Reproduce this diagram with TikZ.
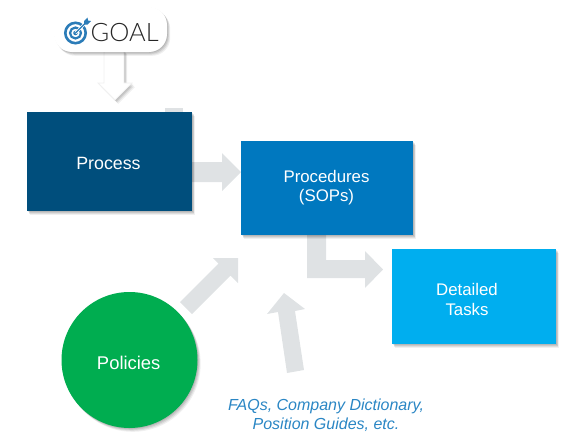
\documentclass[tikz,border=0pt]{standalone}
\usepackage{fontspec}
\setmainfont{Liberation Sans}
\newfontfamily\lightfont{Lato Light}
\usetikzlibrary{shadows}
\definecolor{procC}{HTML}{004E7C}
\definecolor{sopC}{HTML}{0078BF}
\definecolor{taskC}{HTML}{00AEEF}
\definecolor{polC}{HTML}{00AD50}
\definecolor{arrC}{HTML}{DFE2E4}
\definecolor{faqC}{HTML}{2A86C4}
\definecolor{iconC}{HTML}{2B7CB8}
\tikzset{
  softshadow/.style={
    drop shadow={shadow xshift=.8pt,shadow yshift=-.8pt,fill=black,opacity=.09},
    drop shadow={shadow xshift=1.6pt,shadow yshift=-1.8pt,fill=black,opacity=.09},
    drop shadow={shadow xshift=2.4pt,shadow yshift=-2.8pt,fill=black,opacity=.08},
    drop shadow={shadow xshift=3.2pt,shadow yshift=-3.8pt,fill=black,opacity=.06}},
  boxstyle/.style={draw=none,minimum width=#1,inner sep=0,softshadow},
  boxlabel/.style={align=center,text=white,inner sep=0,font=\fontsize{#1}{19.5}\selectfont},
  flowarrow/.style={fill=arrC,draw=none},
  ring/.style={draw=iconC,fill=none}
}
\begin{document}
\begin{tikzpicture}[x=1pt,y=-1pt]
\useasboundingbox (0,0) rectangle (563,434);
% grey stub behind the process box
\fill[arrC] (165,108) rectangle (183,114);
% block arrows
\fill[flowarrow] (190,162) -- (222,162) -- (222,153) -- (241,172) -- (222,191) -- (222,182) -- (190,182) -- cycle;
\fill[flowarrow] (307,233) -- (326,233) -- (326,260) -- (365,260) -- (365,251) -- (383,269.5) -- (365,288) -- (365,278) -- (307,278) -- cycle;
\fill[flowarrow] (180,302) -- (218.5,263.5) -- (213,258) -- (238,258) -- (238,283) -- (230.5,275.5) -- (192,314) -- cycle;
\fill[flowarrow] (287,373) -- (278,312) -- (267,314) -- (284,293) -- (305,309) -- (295,311) -- (304,370) -- cycle;
% goal arrow
\path[fill=white,draw=black!6,line width=.8pt,softshadow] (104,50) -- (124,50) -- (124,83) -- (132,83) -- (115,100) -- (98,83) -- (104,83) -- cycle;
% boxes
\node[boxstyle=165pt,fill=procC,minimum height=99pt] (process) at (109.5,161.5) {};
\node[boxstyle=172pt,fill=sopC,minimum height=94pt] (sop) at (327,188) {};
\node[boxstyle=164pt,fill=taskC,minimum height=95pt] (tasks) at (474,296.5) {};
\node[boxstyle=136pt,fill=polC,shape=circle] (policies) at (129.5,360) {};
\node[boxlabel=17.8] (processlabel) at (108.5,163.5) {Process};
\node[boxlabel=16.8] (soplabel) at (326.5,187.5) {Procedures\\(SOPs)};
\node[boxlabel=16.8] (taskslabel) at (467,299.5) {Detailed\\Tasks};
\node[boxlabel=18.4] (policieslabel) at (128.7,362.5) {Policies};
\node[align=center,text=faqC,font=\fontsize{16}{19.5}\selectfont\itshape,inner sep=0] (faq) at (326,415) {FAQs, Company Dictionary,\\Position Guides, etc.};
% goal pill
\node[fill=white,rounded corners=18pt,minimum width=113pt,minimum height=45pt,inner sep=0,softshadow] (goal) at (110.5,29.5) {};
\node[anchor=west,inner sep=0,font=\fontsize{25.4}{28}\lightfont,text=black!85] (goaltext) at (90.5,32.5) {GOAL};
\coordinate (ic) at (75.5,33);
\draw[ring,line width=2.6pt] (ic) circle (10.2pt);
\draw[ring,line width=2.2pt] (ic) circle (5.5pt);
\fill[iconC] (ic) circle (2.3pt);
\draw[white,line width=2.6pt] (ic) -- ++(12,-12);
\draw[iconC,line width=1.2pt] (ic) -- ++(11,-11);
\fill[iconC] (84,24.5) -- (84,21) -- (87.5,17.5) -- (88,20.5) -- (91,21) -- (87.5,24.5) -- cycle;
\end{tikzpicture}
\end{document}
